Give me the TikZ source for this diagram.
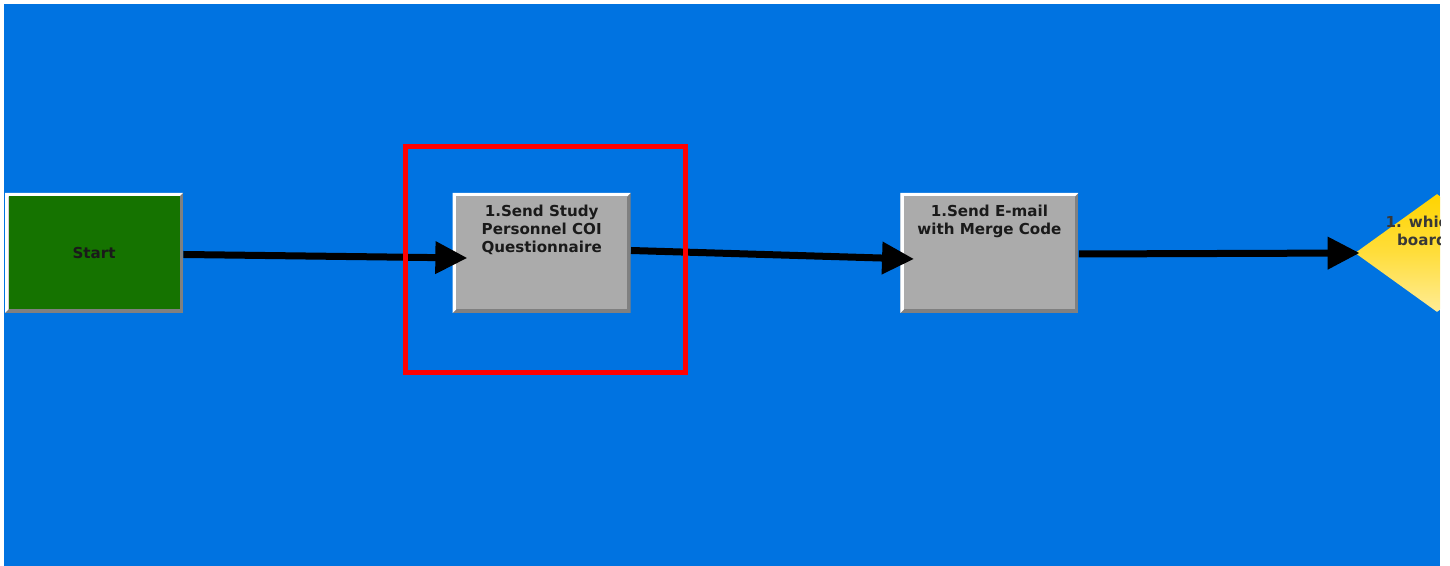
\documentclass[tikz,border=0pt]{standalone}
\usepackage{fontspec}
\setmainfont{DejaVu Sans}
\usepackage{tikz}
\usetikzlibrary{positioning,arrows.meta,shapes.geometric}
\definecolor{canvas}{RGB}{0,115,225}
\definecolor{startgreen}{RGB}{21,115,0}
\definecolor{taskgray}{RGB}{171,171,171}
\definecolor{bevdark}{RGB}{128,128,128}
\definecolor{gateyellow}{RGB}{255,212,0}
\definecolor{gatelight}{RGB}{255,236,150}
\definecolor{txtdark}{RGB}{26,26,26}

\begin{document}
\begin{tikzpicture}[bevel/.style={path picture={
    \fill[bevdark] (path picture bounding box.south west) rectangle (path picture bounding box.north east);
    \fill[white] (path picture bounding box.south west) -- (path picture bounding box.north west) -- (path picture bounding box.north east) -- ([shift={(-0.07,-0.07)}]path picture bounding box.north east) -- ([shift={(0.07,-0.07)}]path picture bounding box.north west) -- ([shift={(0.07,0.07)}]path picture bounding box.south west) -- cycle;
    \fill[#1] ([shift={(0.07,0.07)}]path picture bounding box.south west) rectangle ([shift={(-0.07,-0.07)}]path picture bounding box.north east);}},
  task/.style={minimum width=3.56cm, minimum height=2.4cm, inner sep=0pt, font=\fontsize{8.6}{10.2}\selectfont\bfseries, text=txtdark},
  tasklbl/.style={anchor=north, label distance=-0.24cm, inner sep=0pt, align=center, font=\fontsize{8.6}{10.2}\selectfont\bfseries, text=txtdark},
  gate/.style={diamond, minimum width=3.28cm, minimum height=2.36cm, inner sep=0pt, top color=gateyellow, bottom color=gatelight, middle color=gateyellow!60!gatelight},
  gatelbl/.style={align=center, inner sep=0pt, font=\fontsize{8.6}{10.2}\selectfont\bfseries, text=black!78},
  selbox/.style={draw=red, line width=0.1cm, minimum width=5.6cm, minimum height=4.52cm, inner sep=0pt},
  flow/.style={-{Triangle[length=0.64cm,width=0.62cm]}, line width=0.14cm, black}]
\fill[canvas] (0.08,0) rectangle (28.8,11.24);
\useasboundingbox (0,0) rectangle (29,11.32);
\node[task, bevel=startgreen] (start) at (1.88,6.26) {Start};
\node[task, bevel=taskgray, right=5.38cm of start, label={[tasklbl]north:{1.Send Study\\Personnel COI\\Questionnaire}}] (send) {};
\node[task, bevel=taskgray, right=5.38cm of send, label={[tasklbl]north:{1.Send E-mail\\with Merge Code}}] (email) {};
\begin{scope}
\clip (0.08,0) rectangle (28.8,11.24);
\node[gate] (which) at (28.74,6.26) {};
\node[gatelbl] (whichlbl) at (28.44,6.70) {1. which\\board};
\end{scope}
\draw[flow] ([yshift=-0.03cm]start.east) -- ([xshift=0.3cm,yshift=-0.1cm]send.west);
\draw[flow] ([yshift=0.05cm]send.east) -- ([xshift=0.28cm,yshift=-0.12cm]email.west);
\draw[flow] ([yshift=-0.02cm]email.east) -- ([xshift=0.1cm]which.west);
\node[selbox] (sel) at (10.91,6.13) {};
\end{tikzpicture}
\end{document}
